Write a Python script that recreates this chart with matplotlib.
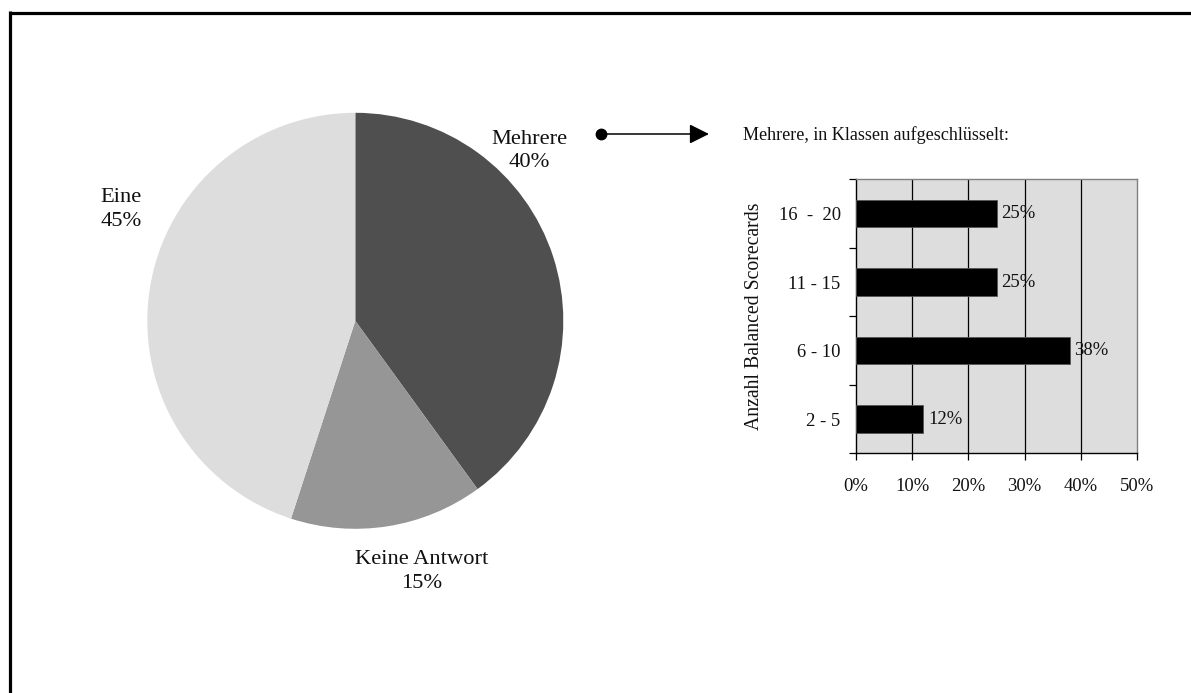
import matplotlib
matplotlib.use("Agg")
import matplotlib.pyplot as plt
from matplotlib.lines import Line2D
from matplotlib.patches import FancyArrowPatch

plt.rcParams["font.family"] = ["Liberation Serif", "DejaVu Serif"]

# Pie: number of Balanced Scorecards in use
pie_labels = ["Mehrere", "Keine Antwort", "Eine"]
pie_values = [40, 15, 45]
pie_colors = ["#4f4f4f", "#969696", "#dddddd"]

# Bar: breakdown of "Mehrere" into classes
bar_categories = ["2 - 5", "6 - 10", "11 - 15", "16  -  20"]
bar_values = [12, 38, 25, 25]
x_ticks = [0, 10, 20, 30, 40, 50]

W, H = 1191, 693
fig = plt.figure(figsize=(W / 100, H / 100), dpi=100)
fig.patch.set_facecolor("white")


def fx(px):
    return px / W


def fy(py):
    return 1 - py / H


# Outer frame (top and left edges run into the figure border)
fig.add_artist(Line2D([fx(9.5), 1.0], [fy(12.5), fy(12.5)], color="black", lw=2.3,
                      transform=fig.transFigure, solid_capstyle="butt"))
fig.add_artist(Line2D([fx(9.5), fx(9.5)], [fy(11.4), 0.0], color="black", lw=2.3,
                      transform=fig.transFigure, solid_capstyle="butt"))

# ---- Pie chart ----
cx, cy, r = 355.3, 320.8, 208.0
ax_pie = fig.add_axes([fx(cx - r), fy(cy + r), 2 * r / W, 2 * r / H])
ax_pie.pie(pie_values, colors=pie_colors, startangle=90, counterclock=False,
           wedgeprops=dict(linewidth=0))
ax_pie.set_xlim(-1, 1)
ax_pie.set_ylim(-1, 1)
ax_pie.set_aspect("equal")
ax_pie.axis("off")

label_pos = {
    "Mehrere": (529, 151),
    "Keine Antwort": (421.3, 571.5),
    "Eine": (120.8, 209.5),
}
for name, val in zip(pie_labels, pie_values):
    px, py = label_pos[name]
    ax_pie.text((px - cx) / r, (cy - py) / r, f"{name}\n{val}%",
                ha="center", va="center", fontsize=16.2, linespacing=1.32,
                color="#111111")

# Connector arrow from the pie label to the breakdown
y_arrow = 134
fig.add_artist(FancyArrowPatch((fx(601), fy(y_arrow)), (fx(709), fy(y_arrow)),
                               transform=fig.transFigure,
                               arrowstyle="-|>,head_length=1.0,head_width=0.5",
                               mutation_scale=12, color="black", lw=1.1,
                               shrinkA=0, shrinkB=0))
fig.add_artist(Line2D([fx(601)], [fy(y_arrow)], marker="o", markersize=7.5,
                      color="black", transform=fig.transFigure))

fig.text(fx(743), fy(139.5), "Mehrere, in Klassen aufgeschlüsselt:",
         ha="left", va="baseline", fontsize=13.1, color="#111111")

# ---- Bar chart ----
left, right, top, bottom = 856, 1137, 179.3, 453.3
ax = fig.add_axes([fx(left), fy(bottom), (right - left) / W, (bottom - top) / H])
ax.set_facecolor("#dddddd")
ypos = list(range(len(bar_categories)))
ax.barh(ypos, bar_values, height=0.4, color="black", edgecolor="#555555",
        linewidth=0.6, zorder=3)
for y, v in zip(ypos, bar_values):
    ax.text(v + 0.8, y, f"{v}%", ha="left", va="center", fontsize=13.4,
            color="#111111", zorder=4)

ax.set_xlim(0, 50)
ax.set_ylim(-0.5, len(bar_categories) - 0.5)
ax.set_xticks(x_ticks)
ax.set_xticklabels([f"{t}%" for t in x_ticks], fontsize=13.4, color="#111111")
for t in x_ticks[1:-1]:
    ax.axvline(t, color="black", lw=0.9, zorder=1)

ax.set_yticks(ypos)
ax.set_yticklabels(bar_categories, fontsize=13.4, color="#111111")
ax.set_yticks([i - 0.5 for i in range(len(bar_categories) + 1)], minor=True)
ax.tick_params(axis="y", which="major", length=0, pad=11)
ax.tick_params(axis="y", which="minor", length=5, width=0.9, color="black")
ax.tick_params(axis="x", which="major", length=5, width=0.9, color="black",
               direction="out", pad=12.5)

for s in ("left", "bottom"):
    ax.spines[s].set_color("black")
    ax.spines[s].set_linewidth(1.0)
for s in ("top", "right"):
    ax.spines[s].set_color("#808080")
    ax.spines[s].set_linewidth(1.0)

ax.set_ylabel("Anzahl Balanced Scorecards", fontsize=14.2, color="#111111")
ax.yaxis.set_label_coords((764 - left) / (right - left), 0.5)

fig.savefig("out.png", dpi=100)
